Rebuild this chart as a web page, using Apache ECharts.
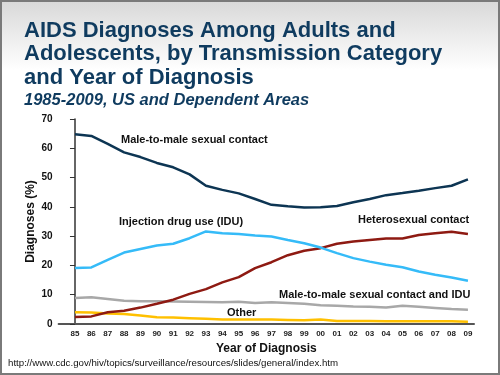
<!DOCTYPE html>
<html>
<head>
<meta charset="utf-8">
<style>
  html, body { margin: 0; padding: 0; background: #fff; }
  #box { width: 500px; height: 375px; }
</style>
<script src="https://cdn.jsdelivr.net/npm/echarts@6/dist/echarts.min.js"></script>
</head>
<body>
<div id="box"></div>
<script>
// 数据
var years = ["85", "86", "87", "88", "89", "90", "91", "92", "93", "94", "95", "96",
  "97", "98", "99", "00", "01", "02", "03", "04", "05", "06", "07", "08", "09"];
var msm = [64.8, 64.2, 61.5, 58.6, 57.0, 55.0, 53.5, 51.1, 47.2, 45.8, 44.6, 42.7,
  40.7, 40.2, 39.8, 39.9, 40.3, 41.6, 42.7, 44.0, 44.7, 45.5, 46.4, 47.2, 49.4];
var idu = [19.1, 19.3, 21.9, 24.4, 25.6, 26.8, 27.4, 29.3, 31.6, 31.0, 30.7, 30.2,
  29.9, 28.7, 27.6, 26.1, 24.2, 22.5, 21.3, 20.2, 19.4, 17.9, 16.8, 15.9, 14.8];
var hetero = [2.4, 2.6, 4.0, 4.5, 5.6, 6.9, 8.3, 10.3, 11.9, 14.2, 16.0, 19.1,
  21.1, 23.5, 25.0, 25.9, 27.4, 28.2, 28.7, 29.2, 29.2, 30.4, 31.0, 31.5, 30.7];
var msmIdu = [8.9, 9.1, 8.5, 7.9, 7.8, 7.8, 7.7, 7.6, 7.5, 7.4, 7.6, 7.2,
  7.4, 7.2, 6.9, 6.4, 6.2, 6.0, 5.9, 5.6, 6.2, 5.9, 5.5, 5.1, 4.9];
var other = [4.0, 3.9, 3.6, 3.4, 2.9, 2.3, 2.2, 2.0, 1.8, 1.5, 1.5, 1.5,
  1.5, 1.4, 1.3, 1.5, 1.0, 1.0, 1.0, 0.9, 0.9, 0.9, 0.9, 0.9, 0.8];

var font = "Liberation Sans, Arial, sans-serif";

function pairs(arr) {
  return arr.map(function (v, i) { return [i, v]; });
}

function line(name, arr, color) {
  return {
    name: name,
    type: "line",
    data: pairs(arr),
    symbol: "none",
    lineStyle: { color: color, width: 2.5 },
    animation: false
  };
}

function label(text, x, y) {
  return {
    type: "text",
    left: x,
    top: y,
    style: { text: text, font: "bold 11px " + font, fill: "#111" }
  };
}

var myChart = echarts.init(document.getElementById("box"));
myChart.setOption({
  backgroundColor: "#fff",
  title: [
    {
      text: "AIDS Diagnoses Among Adults and\nAdolescents, by Transmission Category\nand Year of Diagnosis",
      left: 19,
      top: 14,
      textStyle: { fontFamily: font, fontWeight: "bold", fontSize: 22, lineHeight: 23.5, color: "#0f3b5f" }
    },
    {
      text: "1985-2009, US and Dependent Areas",
      left: 19,
      top: 87,
      textStyle: { fontFamily: font, fontWeight: "bold", fontStyle: "italic", fontSize: 16.5, color: "#0f3b5f" }
    }
  ],
  graphic: [
    {
      type: "rect",
      z: -10,
      shape: { x: 0, y: 0, width: 500, height: 70 },
      style: {
        fill: new echarts.graphic.LinearGradient(0, 0, 0, 1, [
          { offset: 0, color: "#d8d8d8" },
          { offset: 1, color: "#ffffff" }
        ])
      }
    },
    {
      type: "rect",
      z: 100,
      shape: { x: 1, y: 1, width: 498, height: 373 },
      style: { fill: "none", stroke: "#7a7a7a", lineWidth: 2 }
    },
    label("Male-to-male sexual contact", 121, 134),
    label("Injection drug use (IDU)", 119, 216),
    label("Heterosexual contact", 358, 214),
    label("Male-to-male sexual contact and IDU", 279, 289),
    label("Other", 227, 307),
    {
      type: "text",
      left: 8,
      top: 358,
      style: { text: "http://www.cdc.gov/hiv/topics/surveillance/resources/slides/general/index.htm", font: "9.7px " + font, fill: "#111" }
    }
  ],
  grid: { left: 58.6, right: 26, top: 119, bottom: 51 },
  xAxis: {
    type: "value",
    min: -1,
    max: 24.37,
    interval: 1,
    name: "Year of Diagnosis",
    nameLocation: "middle",
    nameGap: 18,
    nameTextStyle: { fontFamily: font, fontWeight: "bold", fontSize: 12, color: "#111" },
    axisLine: { lineStyle: { color: "#555", width: 2 } },
    axisTick: { show: false },
    splitLine: { show: false },
    axisLabel: {
      fontFamily: font, fontWeight: "bold", fontSize: 8, color: "#222", margin: 6,
      showMinLabel: true, showMaxLabel: true,
      formatter: function (v) {
        if (v < 0 || v !== Math.round(v)) return "";
        return years[v] || "";
      }
    }
  },
  yAxis: {
    type: "value",
    min: 0,
    max: 70,
    interval: 10,
    name: "Diagnoses (%)",
    nameLocation: "middle",
    nameGap: 22,
    nameMoveOverlap: false,
    nameTextStyle: { fontFamily: font, fontWeight: "bold", fontSize: 12, color: "#111" },
    axisLine: { show: true, lineStyle: { color: "#333", width: 1.5 } },
    axisTick: { show: true, inside: false, length: 5, lineStyle: { color: "#333" } },
    splitLine: { show: false },
    axisLabel: { fontFamily: font, fontWeight: "bold", fontSize: 10, color: "#111", margin: 6 }
  },
  series: [
    line("Male-to-male sexual contact and IDU", msmIdu, "#a8a8a8"),
    line("Other", other, "#ffc000"),
    line("Heterosexual contact", hetero, "#8e1a12"),
    line("Injection drug use (IDU)", idu, "#35bbf8"),
    line("Male-to-male sexual contact", msm, "#0d3553")
  ]
});
</script>
</body>
</html>
